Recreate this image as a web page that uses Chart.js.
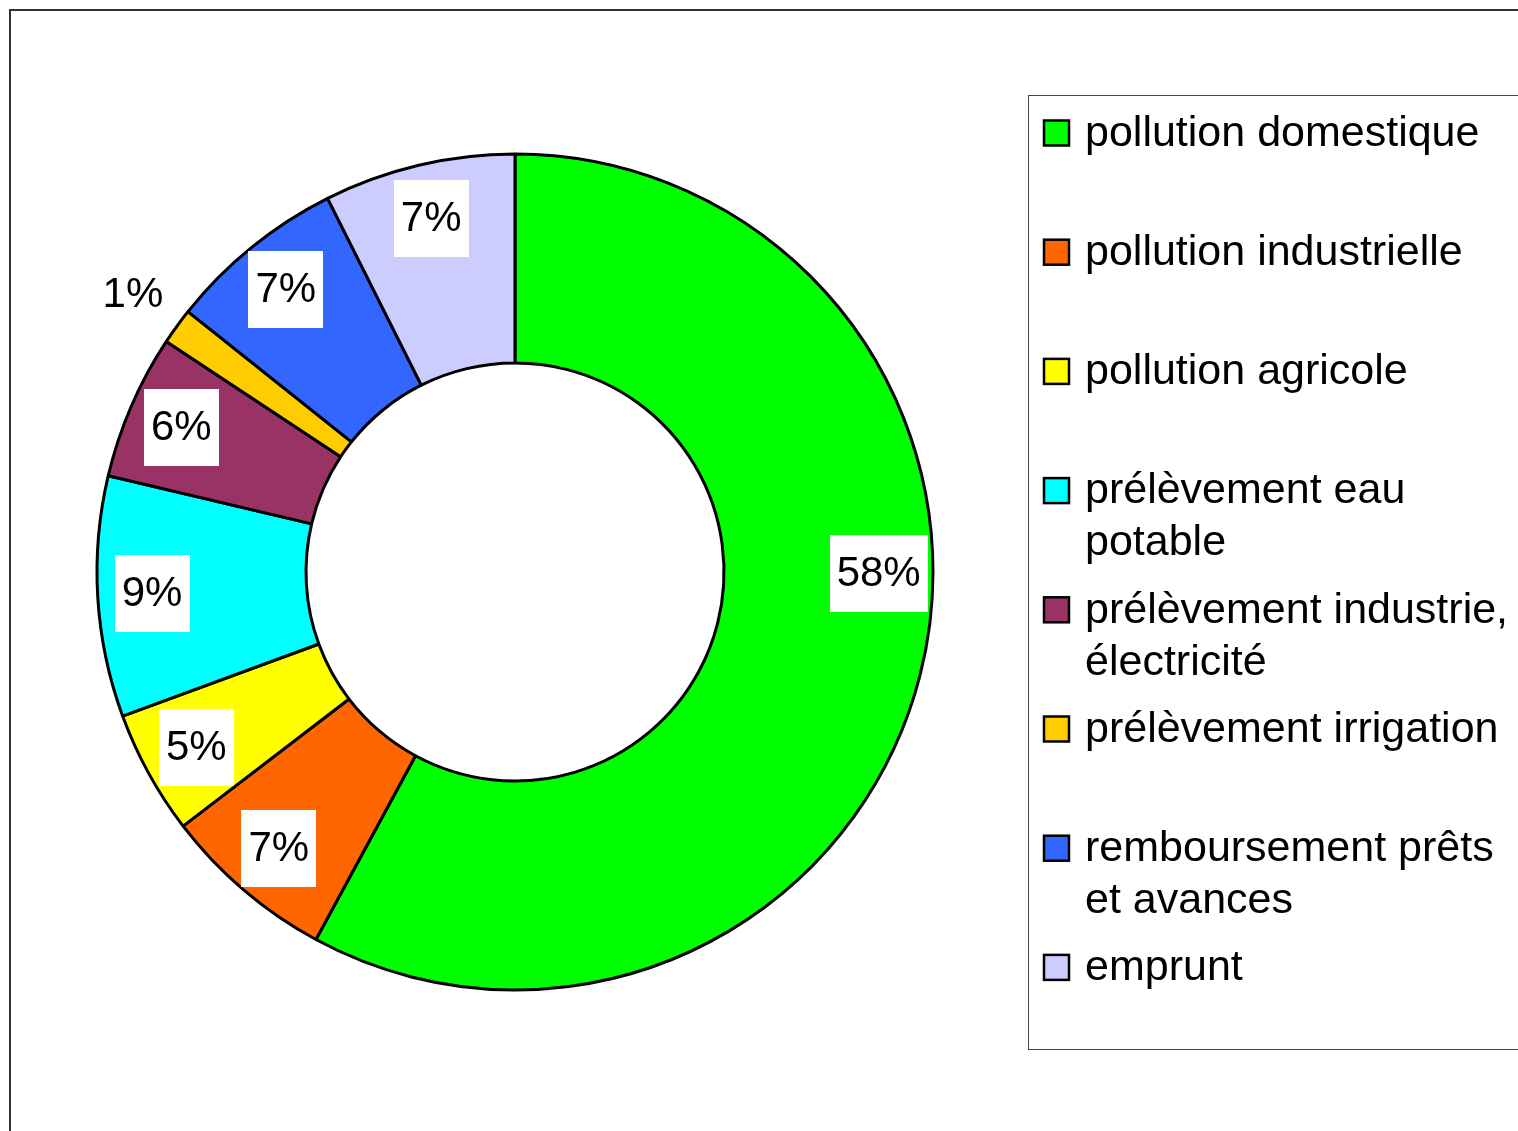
<!DOCTYPE html>
<html>
<head>
<meta charset="utf-8">
<title>Répartition des recettes</title>
<script src="https://cdn.jsdelivr.net/npm/chart.js@4/dist/chart.umd.min.js"></script>
<style>
    body { margin: 0; background: #fff; overflow: hidden; }
    canvas { display: block; }
</style>
</head>
<body>
<canvas id="doughnutChart" width="1518" height="1131"></canvas>
<script>
// Data (shares in %)
const categories = [
    'pollution domestique',
    'pollution industrielle',
    'pollution agricole',
    'prélèvement eau potable',
    'prélèvement industrie, électricité',
    'prélèvement irrigation',
    'remboursement prêts et avances',
    'emprunt'
];
const shares = [57.9, 6.7, 4.8, 9.3, 5.6, 1.4, 6.9, 7.4];
const sliceColors = ['#00FF00', '#FF6600', '#FFFF00', '#00FFFF', '#993366', '#FFCC00', '#3366FF', '#CCCCFF'];

const FONT = '"Liberation Sans", Arial, sans-serif';

// White page with the outer frame
const framePlugin = {
    id: 'frame',
    beforeDraw(chart) {
        const ctx = chart.ctx;
        ctx.save();
        ctx.fillStyle = '#fff';
        ctx.fillRect(0, 0, chart.width, chart.height);
        ctx.strokeStyle = '#333';
        ctx.lineWidth = 2;
        ctx.strokeRect(10, 10, chart.width + 20, chart.height + 20);
        ctx.restore();
    }
};

// Percent labels in white boxes, small slices outside without box
const percentLabels = {
    id: 'percentLabels',
    afterDatasetsDraw(chart, args, opts) {
        const ctx = chart.ctx;
        const meta = chart.getDatasetMeta(0);
        const values = chart.data.datasets[0].data;
        const total = values.reduce((a, b) => a + b, 0);
        ctx.save();
        ctx.font = opts.fontSize + 'px ' + FONT;
        ctx.textAlign = 'center';
        ctx.textBaseline = 'middle';
        meta.data.forEach((arc, i) => {
            const p = arc.getProps(['x', 'y', 'startAngle', 'endAngle', 'outerRadius']);
            const pct = values[i] / total * 100;
            const text = Math.round(pct) + '%';
            const mid = (p.startAngle + p.endAngle) / 2 + (opts.angleShift[i] || 0) * Math.PI / 180;
            const outside = pct < 2;
            const r = p.outerRadius * (outside ? 1.13 : 0.87);
            const cx = p.x + Math.cos(mid) * r;
            const cy = p.y + Math.sin(mid) * r;
            if (!outside) {
                const w = ctx.measureText(text).width + 14;
                const h = 77;
                ctx.fillStyle = '#fff';
                ctx.fillRect(Math.round(cx - w / 2), Math.round(cy - h / 2), Math.round(w), h);
            }
            ctx.fillStyle = '#000';
            ctx.fillText(text, cx, cy + 1);
        });
        ctx.restore();
    }
};

// Legend box on the right, labels wrapped like the original
const sideLegend = {
    id: 'sideLegend',
    afterDraw(chart, args, opts) {
        const ctx = chart.ctx;
        const labels = chart.data.labels;
        const colors = chart.data.datasets[0].backgroundColor;
        ctx.save();
        ctx.strokeStyle = '#444';
        ctx.lineWidth = 1;
        ctx.strokeRect(opts.left + 0.5, opts.top + 0.5, chart.width, opts.bottom - opts.top);

        ctx.font = opts.fontSize + 'px ' + FONT;
        ctx.textAlign = 'left';
        ctx.textBaseline = 'middle';
        labels.forEach((label, i) => {
            const y = opts.firstY + i * opts.pitch;
            // swatch
            ctx.fillStyle = colors[i];
            ctx.fillRect(opts.boxX, y - opts.boxSize / 2, opts.boxSize, opts.boxSize);
            ctx.strokeStyle = '#000';
            ctx.lineWidth = 2.5;
            ctx.strokeRect(opts.boxX, y - opts.boxSize / 2, opts.boxSize, opts.boxSize);
            // wrapped text
            const words = label.split(' ');
            const lines = [];
            let line = '';
            words.forEach(word => {
                const test = line ? line + ' ' + word : word;
                if (line && ctx.measureText(test).width > opts.maxWidth) {
                    lines.push(line);
                    line = word;
                } else {
                    line = test;
                }
            });
            lines.push(line);
            ctx.fillStyle = '#000';
            lines.forEach((l, k) => ctx.fillText(l, opts.textX, y + k * opts.lineHeight + 1));
        });
        ctx.restore();
    }
};

new Chart(document.getElementById('doughnutChart'), {
    type: 'doughnut',
    data: {
        labels: categories,
        datasets: [{
            data: shares,
            backgroundColor: sliceColors,
            borderColor: '#000',
            borderWidth: 3,
            hoverOffset: 0
        }]
    },
    options: {
        responsive: false,
        animation: false,
        events: [],
        cutout: '50%',
        radius: 418,
        layout: { padding: { left: 0, right: 488, top: 13, bottom: 0 } },
        plugins: {
            legend: { display: false },
            tooltip: { enabled: false },
            percentLabels: { fontSize: 42, angleShift: [-14] },
            sideLegend: {
                left: 1028, top: 95, bottom: 1049,
                boxX: 1044, boxSize: 25, textX: 1085,
                firstY: 133, pitch: 119.2, lineHeight: 52,
                fontSize: 43, maxWidth: 440
            }
        }
    },
    plugins: [framePlugin, percentLabels, sideLegend]
});
</script>
</body>
</html>
